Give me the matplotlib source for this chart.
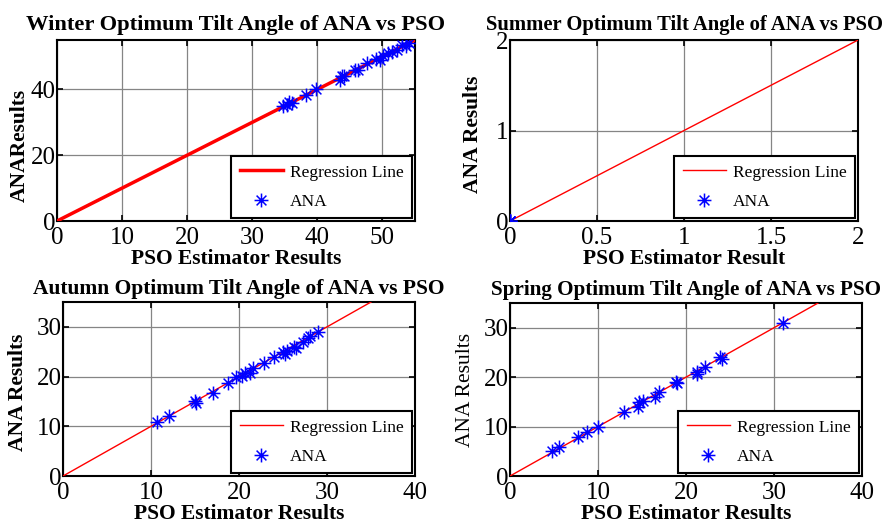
import numpy as np
import matplotlib
matplotlib.use("Agg")
import matplotlib.pyplot as plt
from matplotlib.path import Path

plt.rcParams['font.family'] = ['Liberation Serif', 'DejaVu Serif']

# ---- data ----
winter_pso = [34.8, 35.3, 35.7, 36.1, 38.3, 39.8, 43.5, 43.8, 44.1, 45.8, 46.3, 47.7,
              49.0, 49.6, 50.1, 50.8, 51.5, 52.3, 53.0, 53.6, 54.1]
winter_ana = [35.0, 35.4, 36.2, 35.9, 38.4, 40.0, 43.0, 44.2, 44.0, 46.0, 45.8, 47.9,
              49.2, 48.8, 50.3, 51.0, 51.3, 52.0, 53.4, 53.2, 54.0]
winter_reg = [0, 55]

summer_pso = [0.0, 0.0, 0.0, 0.0]
summer_ana = [0.0, 0.0, 0.0, 0.0]
summer_reg = [0, 2]

autumn_pso = [10.7, 12.0, 15.0, 15.1, 17.0, 18.7, 19.7, 20.3, 20.7, 21.3, 21.6, 22.8,
              24.0, 25.0, 25.2, 25.5, 26.2, 26.5, 27.3, 27.8, 28.1, 29.0]
autumn_ana = [10.8, 12.0, 15.0, 14.6, 16.8, 18.7, 20.0, 20.2, 20.7, 20.8, 21.8, 22.8,
              24.0, 25.0, 24.6, 25.2, 26.0, 25.8, 27.0, 27.8, 28.2, 29.0]
autumn_reg = [0, 35]

spring_pso = [4.8, 5.6, 7.7, 8.7, 10.0, 13.0, 14.5, 14.7, 15.1, 16.5, 16.9, 18.9,
              19.0, 21.2, 21.3, 22.2, 23.9, 24.1, 31.0]
spring_ana = [5.0, 5.8, 7.8, 9.0, 10.0, 13.0, 14.0, 15.0, 15.2, 16.0, 17.0, 19.0,
              18.8, 21.0, 20.6, 22.0, 24.0, 23.7, 31.0]
spring_reg = [0, 35]

# MATLAB style asterisk marker: plus + cross
_c = 0.7071
star = Path([(-1, 0), (1, 0), (0, -1), (0, 1), (-_c, -_c), (_c, _c), (-_c, _c), (_c, -_c)],
            [Path.MOVETO, Path.LINETO] * 4)

fig = plt.figure(figsize=(8.85, 5.22), dpi=100)


def panel(rect, px, py, reg, title, xlab, ylab, xlim, ylim, xt, yt, reg_lw,
          ylab_bold=True, xtl=None, tsize=15.2, ylab_pos=(-0.08, 0.5), tpad=6):
    ax = fig.add_axes(rect)
    ax.plot(reg, reg, color='red', lw=reg_lw, label='Regression Line', zorder=3)
    ax.plot(px, py, ls='none', marker=star, ms=10, mew=1.1, color='blue',
            label='ANA', zorder=4)
    ax.set_xlim(xlim)
    ax.set_ylim(ylim)
    ax.set_xticks(xt)
    ax.set_yticks(yt)
    if xtl is not None:
        ax.set_xticklabels(xtl)
    ax.grid(True, color='#858585', lw=0.9)
    ax.set_axisbelow(True)
    for s in ax.spines.values():
        s.set_linewidth(1.5)
    ax.tick_params(direction='in', top=True, right=True, labelsize=18, length=4, width=1.2)
    ax.tick_params(axis='x', pad=4)
    ax.tick_params(axis='y', pad=1)
    ax.set_title(title, fontsize=tsize, fontweight='bold', pad=tpad)
    ax.set_xlabel(xlab, fontsize=15.5, fontweight='bold', labelpad=0)
    ax.set_ylabel(ylab, fontsize=15.5, fontweight='bold' if ylab_bold else 'normal')
    ax.yaxis.set_label_coords(*ylab_pos)
    leg = ax.legend(loc='lower right', fontsize=12.5, fancybox=False, edgecolor='black',
                    framealpha=1, handlelength=2.5, handletextpad=0.4, borderaxespad=0.15,
                    borderpad=0.5, labelspacing=0.75)
    leg.get_frame().set_linewidth(1.5)
    return ax


panel([0.0644, 0.5766, 0.4045, 0.3467], winter_pso, winter_ana, winter_reg,
      'Winter Optimum Tilt Angle of ANA vs PSO', 'PSO Estimator Results', 'ANAResults',
      (0, 55), (0, 55), [0, 10, 20, 30, 40, 50], [0, 20, 40], 2.5, tsize=16.2,
      ylab_pos=(-0.075, 0.42), tpad=7)

panel([0.5763, 0.5766, 0.3932, 0.3467], summer_pso, summer_ana, summer_reg,
      'Summer Optimum Tilt Angle of ANA vs PSO', 'PSO Estimator Result', 'ANA Results',
      (0, 2), (0, 2), [0, 0.5, 1, 1.5, 2], [0, 1, 2], 1.0,
      xtl=['0', '0.5', '1', '1.5', '2'], tsize=14.9, ylab_pos=(-0.078, 0.48), tpad=7)

panel([0.0712, 0.0881, 0.3977, 0.3333], autumn_pso, autumn_ana, autumn_reg,
      'Autumn Optimum Tilt Angle of ANA vs PSO', 'PSO Estimator Results', 'ANA Results',
      (0, 40), (0, 35), [0, 10, 20, 30, 40], [0, 10, 20, 30], 1.0, tsize=15.5,
      ylab_pos=(-0.10, 0.48), tpad=6)

panel([0.5763, 0.0881, 0.3977, 0.3314], spring_pso, spring_ana, spring_reg,
      'Spring Optimum Tilt Angle of ANA vs PSO', 'PSO Estimator Results', 'ANA Results',
      (0, 40), (0, 35), [0, 10, 20, 30, 40], [0, 10, 20, 30], 1.0, ylab_bold=False,
      tsize=15.2, ylab_pos=(-0.10, 0.50), tpad=6)

fig.savefig('out.png', dpi=100)
